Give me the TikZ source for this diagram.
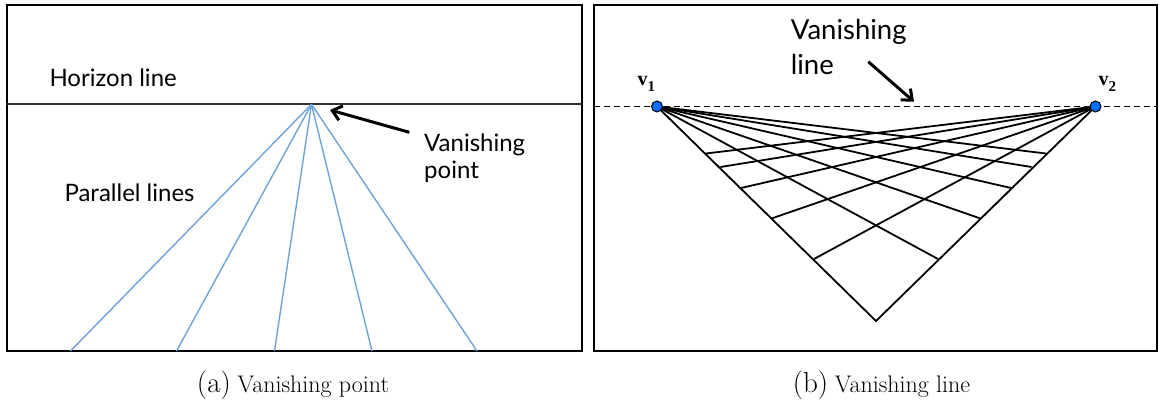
\documentclass[tikz,border=0pt]{standalone}
\usepackage{fontspec}
\newfontfamily\labfont{Lato}
\newfontfamily\vfont{Liberation Serif}
\usetikzlibrary{arrows.meta}
\definecolor{rayblue}{RGB}{110,163,216}
\definecolor{dotblue}{RGB}{0,110,255}
\definecolor{horizongray}{RGB}{50,50,50}
\begin{document}
\begin{tikzpicture}[x=1pt,y=-1pt,
  frame/.style={draw=black,line width=1.6pt},
  horizon/.style={draw=horizongray,line width=1.7pt},
  ray/.style={draw=rayblue,line width=1.4pt},
  gridline/.style={draw=black,line width=1.8pt},
  dashline/.style={draw=black,line width=1.5pt,dash pattern=on 6pt off 4pt},
  pointer/.style={draw=black,line width=3pt,-{Straight Barb[length=9pt,width=15pt]}},
  lab/.style={inner sep=0pt,font=\labfont\fontsize{24}{27.3}\selectfont,align=left},
  labbig/.style={inner sep=0pt,font=\labfont\fontsize{27.5}{35}\selectfont,align=left},
  vdot/.style={circle,draw=black,fill=dotblue,line width=1pt,minimum size=11pt,inner sep=0pt},
  vlab/.style={inner sep=0pt,anchor=base west,font=\vfont\bfseries\fontsize{20}{20}\selectfont},
  captext/.style={inner sep=0pt,anchor=base}
]
\useasboundingbox (0,0) rectangle (1159,402);

% ---------------- left panel ----------------
\draw[frame] (7,5) rectangle (582,351);
\coordinate (hl) at (7,104.3);
\coordinate (hr) at (582,104.3);
\draw[horizon] (hl) -- (hr);
\coordinate (vp) at (311.5,104.3);
\coordinate (b1) at (70.5,351);
\coordinate (b2) at (176.5,351);
\coordinate (b3) at (274.5,351);
\coordinate (b4) at (372,351);
\coordinate (b5) at (477,351);
\foreach \i in {1,...,5} \draw[ray] (vp) -- (b\i);

\node[lab,anchor=base west] (horizonlab) at (49.3,86.7) {Horizon line};
\node[lab,anchor=base west] (parlab) at (64.3,201.7) {Parallel lines};
\node[lab,anchor=north west] (vplab) at (424,133.5) {Vanishing\\point};
\coordinate (vpa1) at (409.3,132.3);
\coordinate (vpa2) at (330,110);
\draw[pointer] (vpa1) -- (vpa2);

\node[captext] (capa) at (293,392) {\fontsize{29}{32}\selectfont (a)\hspace{6.7pt}\fontsize{24}{28}\selectfont Vanishing point};

% ---------------- right panel ----------------
\draw[frame] (594,5) rectangle (1157,351);
\coordinate (dl) at (594,106.5);
\coordinate (dr) at (1157,106.5);
\draw[dashline] (dl) -- (dr);

\coordinate (v1) at (657,106.5);
\coordinate (v2) at (1095.5,106.5);
\coordinate (apex) at (876,321);
\coordinate (L1) at (706,153.5);
\coordinate (L2) at (720.5,167);
\coordinate (L3) at (741,188);
\coordinate (L4) at (771.5,218.5);
\coordinate (L5) at (814,259);
\coordinate (R1) at (1046,153.5);
\coordinate (R2) at (1031.5,167);
\coordinate (R3) at (1011,188);
\coordinate (R4) at (980.5,218.5);
\coordinate (R5) at (938,259);

\draw[gridline,line join=miter] (v1) -- (apex) -- (v2);
\foreach \i in {1,...,5} {
  \draw[gridline] (v1) -- (R\i);
  \draw[gridline] (v2) -- (L\i);
}
\node[vdot] (d1) at (v1) {};
\node[vdot] (d2) at (v2) {};
\node[vlab] (v1lab) at (637.5,85.5) {v\raisebox{-6pt}{\fontsize{15}{15}\selectfont 1}};
\node[vlab] (v2lab) at (1098.5,85.5) {v\raisebox{-6pt}{\fontsize{15}{15}\selectfont 2}};

\node[labbig,anchor=north west] (vllab) at (790.7,19.3) {Vanishing\\line};
\coordinate (vla1) at (868.3,61.7);
\coordinate (vla2) at (914,101.7);
\draw[pointer] (vla1) -- (vla2);

\node[captext] (capb) at (881.5,392) {\fontsize{29}{32}\selectfont (b)\hspace{6.7pt}\fontsize{24}{28}\selectfont Vanishing line};
\end{tikzpicture}
\end{document}
